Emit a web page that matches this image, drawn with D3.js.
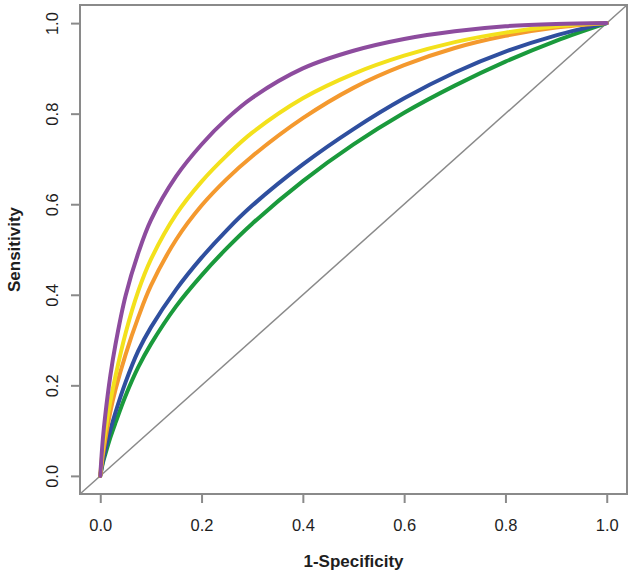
<!DOCTYPE html>
<html>
<head>
<meta charset="utf-8">
<script src="https://cdn.jsdelivr.net/npm/d3@7"></script>
<style>
  html, body { margin: 0; padding: 0; background: #fff; }
  svg { display: block; font-family: "Liberation Sans", Arial, Helvetica, sans-serif; }
</style>
</head>
<body>
<svg id="chart" width="633" height="577"></svg>
<script>
// ---- data ----
const fpr       = [0, 0.005, 0.01, 0.02, 0.03, 0.05, 0.075, 0.1, 0.15, 0.2, 0.25, 0.3, 0.4, 0.5, 0.6, 0.7, 0.8, 0.9, 1.0];
const greenTpr  = [0, 0.028, 0.048, 0.085, 0.117, 0.177, 0.240, 0.291, 0.375, 0.443, 0.503, 0.557, 0.651, 0.732, 0.802, 0.862, 0.915, 0.961, 1.0];
const blueTpr   = [0, 0.032, 0.058, 0.102, 0.140, 0.207, 0.276, 0.328, 0.412, 0.482, 0.543, 0.597, 0.688, 0.766, 0.834, 0.891, 0.937, 0.973, 1.0];
const orangeTpr = [0, 0.045, 0.080, 0.142, 0.190, 0.268, 0.350, 0.420, 0.522, 0.597, 0.656, 0.706, 0.790, 0.857, 0.907, 0.945, 0.972, 0.990, 1.0];
const yellowTpr = [0, 0.060, 0.100, 0.165, 0.220, 0.315, 0.408, 0.478, 0.578, 0.650, 0.708, 0.758, 0.834, 0.888, 0.928, 0.958, 0.979, 0.993, 1.0];
const purpleTpr = [0, 0.080, 0.135, 0.222, 0.290, 0.398, 0.492, 0.565, 0.662, 0.732, 0.789, 0.835, 0.900, 0.939, 0.965, 0.982, 0.993, 0.998, 1.0];
const seriesNames  = ["green", "blue", "orange", "yellow", "purple"];
const seriesValues = [greenTpr, blueTpr, orangeTpr, yellowTpr, purpleTpr];
const seriesColors = ["#1a9a3c", "#2f4f9f", "#f4992e", "#f3e11c", "#8d4c9e"];
const tickValues = [0, 0.2, 0.4, 0.6, 0.8, 1.0];
const tickLabels = ["0.0", "0.2", "0.4", "0.6", "0.8", "1.0"];
const xTitle = "1-Specificity";
const yTitle = "Sensitivity";

// ---- layout ----
const svg = d3.select("#chart");
const plot = { left: 80, right: 627, top: 5, bottom: 494 };
const x = d3.scaleLinear().domain([-0.04, 1.04]).range([plot.left, plot.right]);
const y = d3.scaleLinear().domain([-0.04, 1.04]).range([plot.bottom, plot.top]);
const gray = "#8a8a8a";
const textColor = "#1e1e1e";

// diagonal reference line
svg.append("line")
  .attr("x1", x(-0.04)).attr("y1", y(-0.04))
  .attr("x2", x(1.04)).attr("y2", y(1.04))
  .attr("stroke", gray).attr("stroke-width", 1.5);

// curves
const line = d3.line()
  .x(d => x(d[0])).y(d => y(d[1]))
  .curve(d3.curveCatmullRom.alpha(0.5));
seriesValues.forEach((vals, i) => {
  svg.append("path")
    .datum(fpr.map((f, j) => [f, vals[j]]))
    .attr("class", "roc " + seriesNames[i])
    .attr("fill", "none")
    .attr("stroke", seriesColors[i])
    .attr("stroke-width", 4)
    .attr("stroke-linejoin", "round")
    .attr("stroke-linecap", "round")
    .attr("d", line);
});

// box
svg.append("rect")
  .attr("x", plot.left).attr("y", plot.top)
  .attr("width", plot.right - plot.left).attr("height", plot.bottom - plot.top)
  .attr("fill", "none").attr("stroke", gray).attr("stroke-width", 2);

// axes
const fmt = d => tickLabels[tickValues.indexOf(d)];
const xAxis = d3.axisBottom(x).tickValues(tickValues).tickFormat(fmt).tickSize(9).tickPadding(16);
const gx = svg.append("g").attr("transform", `translate(0,${plot.bottom})`).call(xAxis);
gx.select(".domain").attr("d", `M${x(0)},0H${x(1)}`).attr("stroke", gray).attr("stroke-width", 2);
gx.selectAll(".tick line").attr("stroke", gray).attr("stroke-width", 2);
gx.selectAll(".tick text").attr("font-size", 16.5).attr("fill", textColor)
  .attr("font-family", "Liberation Sans, Arial, sans-serif");

const yAxis = d3.axisLeft(y).tickValues(tickValues).tickFormat(fmt).tickSize(9).tickPadding(10);
const gy = svg.append("g").attr("transform", `translate(${plot.left},0)`).call(yAxis);
gy.select(".domain").attr("d", `M0,${y(0)}V${y(1)}`).attr("stroke", gray).attr("stroke-width", 2);
gy.selectAll(".tick line").attr("stroke", gray).attr("stroke-width", 2);
gy.selectAll(".tick text")
  .attr("font-size", 16.5).attr("fill", textColor)
  .attr("font-family", "Liberation Sans, Arial, sans-serif")
  .attr("x", null).attr("dy", null)
  .attr("text-anchor", "middle")
  .attr("dominant-baseline", "central")
  .attr("transform", "translate(-28,0) rotate(-90)");

// titles
svg.append("text")
  .attr("x", (plot.left + plot.right) / 2).attr("y", 567)
  .attr("text-anchor", "middle")
  .attr("font-size", 17).attr("font-weight", "bold").attr("fill", textColor)
  .text(xTitle);
svg.append("text")
  .attr("transform", `translate(20,${(plot.top + plot.bottom) / 2}) rotate(-90)`)
  .attr("text-anchor", "middle")
  .attr("font-size", 17).attr("font-weight", "bold").attr("fill", textColor)
  .text(yTitle);
</script>
</body>
</html>
